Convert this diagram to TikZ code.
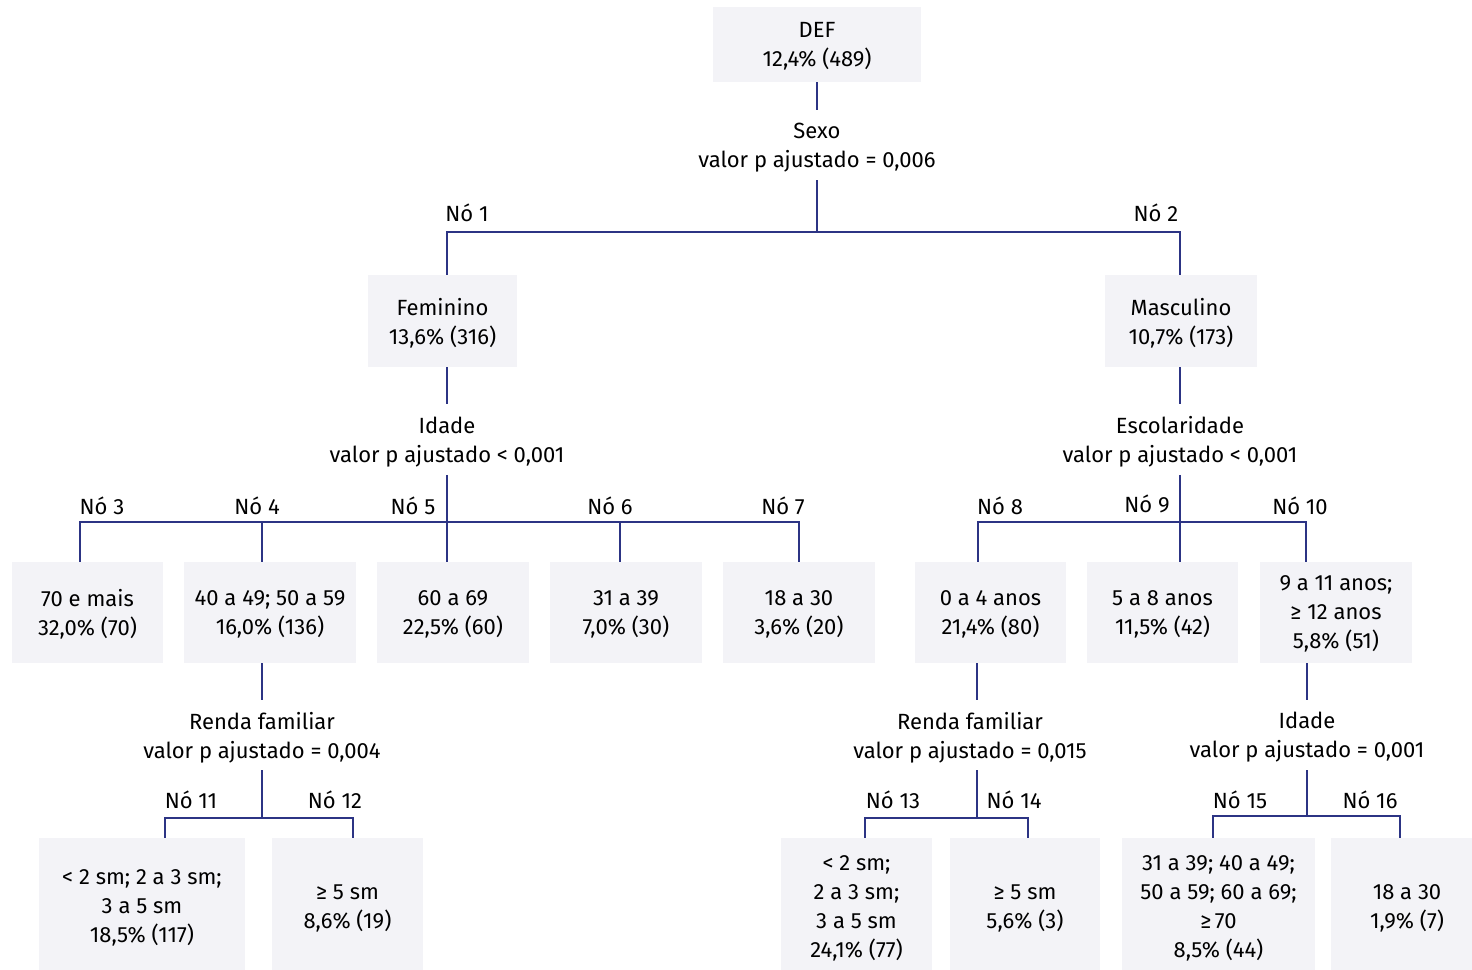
\documentclass[tikz,border=0pt]{standalone}
\usepackage{fontspec}
\setmainfont{Fira Sans}
\definecolor{boxgray}{RGB}{243,243,247}
\definecolor{linkblue}{RGB}{44,52,132}
\begin{document}
\begin{tikzpicture}
  [x=0.5pt,y=-0.5pt,
   box/.style 2 args={fill=boxgray,align=center,inner sep=0pt,minimum width=#1*0.5pt,minimum height=#2*0.5pt,
     text depth=0pt},
   split/.style={align=center,inner sep=0pt,minimum height=35pt,text depth=0pt},
   lbl/.style={inner sep=0pt},
   link/.style={draw=linkblue,line width=0.7pt},
   font=\fontsize{11}{14.5}\selectfont]
  \useasboundingbox (0,0) rectangle (1472,969);
  \node[box={208}{75}] (def) at (817,44.5) {DEF\\12,4\% (489)};
  \node[split] (sexo) at (817,145) {Sexo\\valor p ajustado = 0,006};
  \node[box={149}{92}] (fem) at (442.5,321) {Feminino\\13,6\% (316)};
  \node[box={152}{92}] (masc) at (1181,321) {Masculino\\10,7\% (173)};
  \node[split] (idf) at (447,439.5) {Idade\\valor p ajustado < 0,001};
  \node[split] (esc) at (1180,439.5) {Escolaridade\\valor p ajustado < 0,001};
  \node[box={151}{101}] (n3) at (87.5,612.5) {70 e mais\\32,0\% (70)};
  \node[box={172}{101}] (n4) at (270,612.5) {40 a 49; 50 a 59\\16,0\% (136)};
  \node[box={152}{101}] (n5) at (453,612.5) {60 a 69\\22,5\% (60)};
  \node[box={152}{101}] (n6) at (626,612.5) {31 a 39\\7,0\% (30)};
  \node[box={152}{101}] (n7) at (799,612.5) {18 a 30\\3,6\% (20)};
  \node[box={151}{101}] (n8) at (990.5,612.5) {0 a 4 anos\\21,4\% (80)};
  \node[box={151}{101}] (n9) at (1162.5,612.5) {5 a 8 anos\\11,5\% (42)};
  \node[box={152}{101}] (n10) at (1336,612.5) {9 a 11 anos;\\≥ 12 anos\\5,8\% (51)};
  \node[split] (r4) at (262,735) {Renda familiar\\valor p ajustado = 0,004};
  \node[split] (r8) at (970,735) {Renda familiar\\valor p ajustado = 0,015};
  \node[split] (i10) at (1307,735) {Idade\\valor p ajustado = 0,001};
  \node[box={206}{137}] (n11) at (142,906.5) {< 2 sm; 2 a 3 sm;\\3 a 5 sm\\18,5\% (117)};
  \node[box={151}{137}] (n12) at (347.5,906.5) {≥ 5 sm\\8,6\% (19)};
  \node[box={151}{137}] (n13) at (856.5,906.5) {< 2 sm;\\2 a 3 sm;\\3 a 5 sm\\24,1\% (77)};
  \node[box={150}{137}] (n14) at (1025,906.5) {≥ 5 sm\\5,6\% (3)};
  \node[box={193}{137}] (n15) at (1218.5,906.5) {31 a 39; 40 a 49;\\50 a 59; 60 a 69;\\≥\,70\\8,5\% (44)};
  \node[box={152}{137}] (n16) at (1407,906.5) {18 a 30\\1,9\% (7)};
  \node[lbl] (l1) at (467,213) {Nó 1};
  \node[lbl] (l2) at (1156,213) {Nó 2};
  \node[lbl] (l3) at (102,506) {Nó 3};
  \node[lbl] (l4) at (257,506) {Nó 4};
  \node[lbl] (l5) at (413,506) {Nó 5};
  \node[lbl] (l6) at (610,506) {Nó 6};
  \node[lbl] (l7) at (783,506) {Nó 7};
  \node[lbl] (l8) at (1000,506) {Nó 8};
  \node[lbl] (l9) at (1147,504) {Nó 9};
  \node[lbl] (l10) at (1300,506) {Nó 10};
  \node[lbl] (l11) at (191,800) {Nó 11};
  \node[lbl] (l12) at (335,800) {Nó 12};
  \node[lbl] (l13) at (893,800) {Nó 13};
  \node[lbl] (l14) at (1014,800) {Nó 14};
  \node[lbl] (l15) at (1240,800) {Nó 15};
  \node[lbl] (l16) at (1370,800) {Nó 16};
  \coordinate (b0) at (817,232);
  \coordinate (b1) at (447,522);
  \coordinate (b2) at (1180,522);
  \coordinate (b4) at (262,818);
  \coordinate (b8) at (977,818);
  \coordinate (b10) at (1307,816);
  \draw[link] (def) -- (sexo);
  \draw[link] (sexo) -- (b0);
  \draw[link] (b0) -| ([xshift=2.25pt]fem.north);
  \draw[link] (b0) -| ([xshift=-0.5pt]masc.north);
  \draw[link] ([xshift=2.25pt]fem.south) -- (idf);
  \draw[link] ([xshift=-0.5pt]masc.south) -- (esc);
  \draw[link] (idf) -- (b1);
  \draw[link] (b1) -| ([xshift=-3.75pt]n3.north);
  \draw[link] (b1) -| ([xshift=-4pt]n4.north);
  \draw[link] (b1) -| ([xshift=-3pt]n5.north);
  \draw[link] (b1) -| ([xshift=-3pt]n6.north);
  \draw[link] (b1) -| (n7.north);
  \draw[link] (esc) -- (b2);
  \draw[link] (b2) -| ([xshift=-6.25pt]n8.north);
  \draw[link] (b2) -| ([xshift=8.75pt]n9.north);
  \draw[link] (b2) -| ([xshift=-15pt]n10.north);
  \draw[link] ([xshift=-4pt]n4.south) -- (r4);
  \draw[link] (r4) -- (b4);
  \draw[link] (b4) -| ([xshift=11.5pt]n11.north);
  \draw[link] (b4) -| ([xshift=2.75pt]n12.north);
  \draw[link] ([xshift=-6.75pt]n8.south) -- (r8.north -| b8);
  \draw[link] (r8.south -| b8) -- (b8);
  \draw[link] (b8) -| ([xshift=4.25pt]n13.north);
  \draw[link] (b8) -| ([xshift=1.5pt]n14.north);
  \draw[link] ([xshift=-14.5pt]n10.south) -- (i10);
  \draw[link] (i10) -- (b10);
  \draw[link] (b10) -| ([xshift=-2.75pt]n15.north);
  \draw[link] (b10) -| ([xshift=-3.5pt]n16.north);
\end{tikzpicture}
\end{document}
